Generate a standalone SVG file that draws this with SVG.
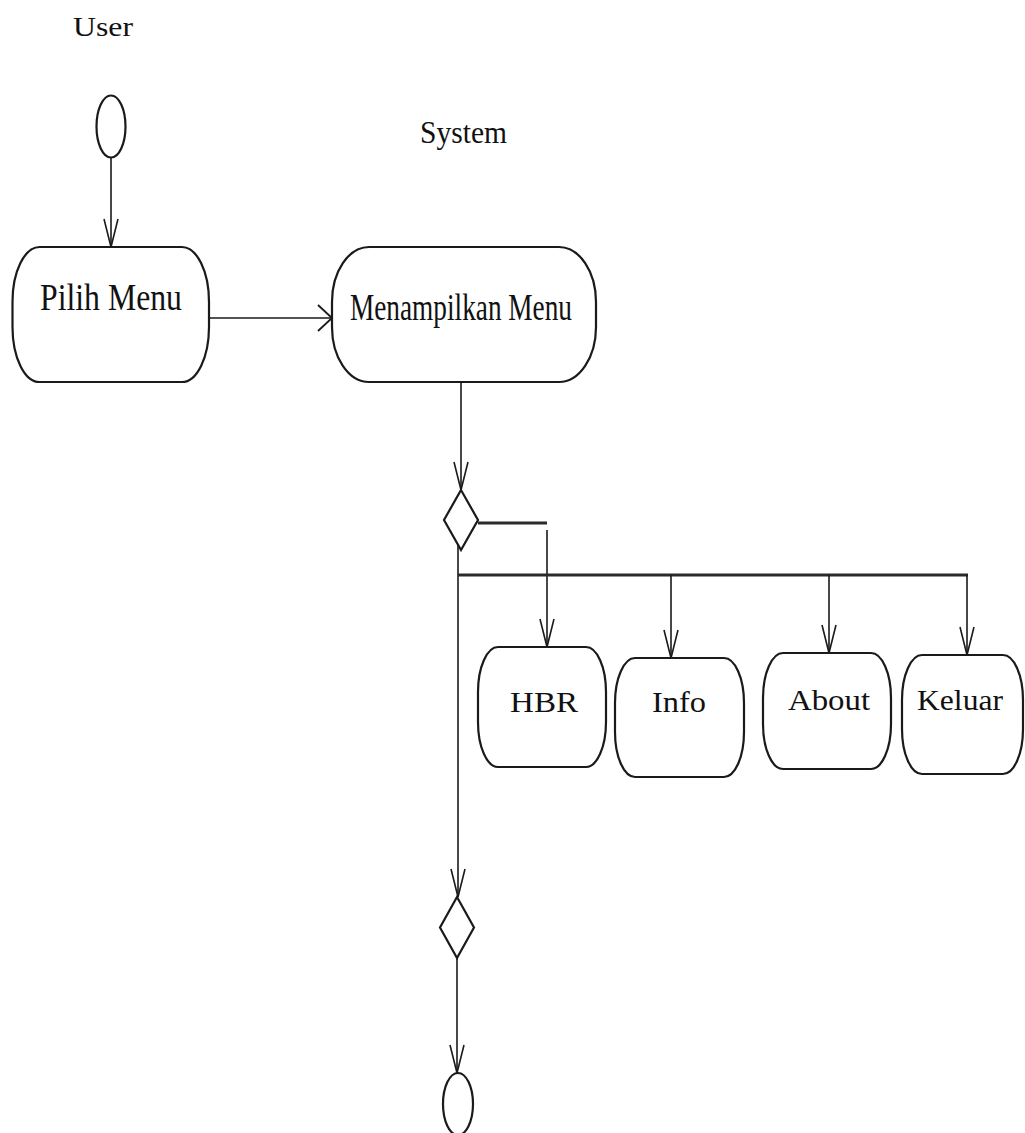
<svg xmlns="http://www.w3.org/2000/svg" width="1025" height="1133" viewBox="0 0 1025 1133">
  <style>
    .node { fill: #ffffff; stroke: #1a1a1a; stroke-width: 2.2; }
    .edge { fill: none; stroke: #1a1a1a; stroke-width: 1.6; }
    .bar { fill: none; stroke: #2a2a2a; stroke-width: 3; }
    .lbl { font-family: "Liberation Serif", "Times New Roman", serif; fill: #111111; text-anchor: start; }
  </style>
  <defs>
    <marker id="arrowV" markerUnits="userSpaceOnUse" viewBox="-30 -9 32 18" refX="0" refY="0" markerWidth="32" markerHeight="18" orient="auto" overflow="visible">
      <path d="M-28,-7 L0,0 L-28,7" fill="none" stroke="#1a1a1a" stroke-width="1.6"/>
    </marker>
    <marker id="arrowH" markerUnits="userSpaceOnUse" viewBox="-16 -15 18 30" refX="0" refY="0" markerWidth="18" markerHeight="30" orient="auto" overflow="visible">
      <path d="M-14,-13 L0,0 L-14,13" fill="none" stroke="#1a1a1a" stroke-width="1.8"/>
    </marker>
  </defs>

  <rect width="1025" height="1133" fill="#ffffff"/>

  <!-- lane headings -->
  <text class="lbl" x="73" y="36" font-size="27" textLength="60" lengthAdjust="spacingAndGlyphs">User</text>
  <text class="lbl" x="420" y="143" font-size="32" textLength="87" lengthAdjust="spacingAndGlyphs">System</text>

  <!-- connectors -->
  <g id="connectors">
    <line class="edge" x1="111" y1="158" x2="111" y2="247" marker-end="url(#arrowV)"/>
    <line class="edge" x1="209" y1="318" x2="332" y2="318" stroke-width="2.4" marker-end="url(#arrowH)"/>
    <line class="edge" x1="461" y1="373" x2="461" y2="490" marker-end="url(#arrowV)"/>
    <!-- branch to HBR -->
    <line class="bar" x1="478" y1="523" x2="547" y2="523"/>
    <line class="edge" x1="547" y1="530" x2="547" y2="647" marker-end="url(#arrowV)"/>
    <!-- main trunk down to merge -->
    <line class="edge" x1="458" y1="528" x2="458" y2="897" marker-end="url(#arrowV)"/>
    <!-- bus to the other options -->
    <line class="bar" x1="458" y1="575" x2="968" y2="575"/>
    <line class="edge" x1="671" y1="575" x2="671" y2="658" marker-end="url(#arrowV)"/>
    <line class="edge" x1="829" y1="575" x2="829" y2="653" marker-end="url(#arrowV)"/>
    <line class="edge" x1="967" y1="575" x2="967" y2="655" marker-end="url(#arrowV)"/>
    <!-- merge to end -->
    <line class="edge" x1="457" y1="958" x2="457" y2="1073" marker-end="url(#arrowV)"/>
  </g>

  <!-- start -->
  <g id="start">
    <ellipse class="node" cx="111" cy="126.5" rx="14.5" ry="31"/>
  </g>

  <g id="pilih-menu">
    <rect class="node" x="12.5" y="247" width="196.5" height="135" rx="27" ry="55"/>
    <text class="lbl" x="40" y="310" font-size="38" textLength="142" lengthAdjust="spacingAndGlyphs">Pilih Menu</text>
  </g>

  <g id="menampilkan-menu">
    <rect class="node" x="332" y="247" width="264" height="135" rx="37" ry="55"/>
    <text class="lbl" x="350" y="320" font-size="38" textLength="222" lengthAdjust="spacingAndGlyphs">Menampilkan Menu</text>
  </g>

  <g id="decision">
    <polygon class="node" points="461,490 478,520 461,550 444,520" stroke-width="2"/>
  </g>

  <g id="hbr">
    <rect class="node" x="478" y="647" width="128" height="120" rx="20" ry="45"/>
    <text class="lbl" x="510" y="712" font-size="29" textLength="68" lengthAdjust="spacingAndGlyphs">HBR</text>
  </g>

  <g id="info">
    <rect class="node" x="615" y="658" width="129" height="119" rx="20" ry="45"/>
    <text class="lbl" x="652" y="712" font-size="29" textLength="54" lengthAdjust="spacingAndGlyphs">Info</text>
  </g>

  <g id="about">
    <rect class="node" x="763" y="653" width="128" height="116" rx="20" ry="45"/>
    <text class="lbl" x="788" y="710" font-size="30" textLength="82" lengthAdjust="spacingAndGlyphs">About</text>
  </g>

  <g id="keluar">
    <rect class="node" x="902" y="655" width="121" height="119" rx="20" ry="45"/>
    <text class="lbl" x="917" y="710" font-size="29" textLength="86" lengthAdjust="spacingAndGlyphs">Keluar</text>
  </g>

  <g id="merge">
    <polygon class="node" points="457,897 474,927.5 457,958 440,927.5" stroke-width="2"/>
  </g>

  <g id="end">
    <ellipse class="node" cx="458" cy="1104" rx="15" ry="31"/>
  </g>
</svg>
